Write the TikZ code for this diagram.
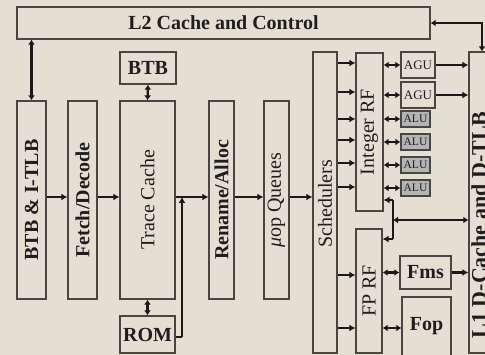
\documentclass[tikz,border=0pt]{standalone}
\usepackage{fontspec}
\setmainfont{Liberation Serif}
\usetikzlibrary{arrows.meta,calc}
\definecolor{bg}{RGB}{229,223,211}
\definecolor{boxline}{RGB}{72,70,66}
\definecolor{arr}{RGB}{25,25,25}
\definecolor{alufill}{RGB}{180,180,180}
\definecolor{txt}{RGB}{30,30,30}
\begin{document}
\begin{tikzpicture}[x=1pt,y=-1pt,
  box/.style={draw=boxline,line width=1.3pt,inner sep=0pt,minimum width=#1},
  lbl/.style={text=txt,inner sep=0pt,font=\fontsize{20}{22}\selectfont},
  blbl/.style={lbl,font=\fontsize{20}{22}\selectfont\bfseries},
  vl/.style={lbl,rotate=90},
  vbl/.style={blbl,rotate=90},
  ar/.style={draw=arr,line width=2.2pt,-{Latex[length=6pt,width=7pt]}},
  dar/.style={draw=arr,line width=2.2pt,{Latex[length=5pt,width=7pt]}-{Latex[length=5pt,width=7pt]}},
  ln/.style={draw=arr,line width=2.2pt}]
\useasboundingbox (0,0) rectangle (485,355);
\clip (0,0) rectangle (485,355);
\fill[bg] (0,0) rectangle (485,355);

% boxes
\node[box=413pt,minimum height=32pt] (L2) at (223.5,23) {};
\node[blbl] (L2t) at (L2.center) {L2 Cache and Control};
\node[box=51pt,minimum height=301pt] (L1) at (494.5,202.5) {};
\node[vbl,font=\fontsize{22}{24}\selectfont\bfseries] (L1t) at (479,225) {L1 D-Cache and D-TLB};

\node[box=29pt,minimum height=198pt] (bi) at (31.5,200) {};
\node[vbl] (bit) at (bi.center) {BTB \& I-TLB};
\node[box=29pt,minimum height=198pt] (fd) at (82.5,200) {};
\node[vbl] (fdt) at (fd.center) {Fetch/Decode};
\node[box=55pt,minimum height=198pt] (tc) at (147.5,200) {};
\node[vl] (tct) at (tc.center) {Trace Cache};
\node[box=56pt,minimum height=32pt] (btb) at (148,68) {};
\node[blbl] (btbt) at (btb.center) {BTB};
\node[box=55pt,minimum height=37pt] (rom) at (147.5,334.5) {};
\node[blbl] (romt) at (rom.center) {ROM};
\node[box=25pt,minimum height=198pt] (ra) at (221.5,200) {};
\node[vbl] (rat) at (ra.center) {Rename/Alloc};
\node[box=25pt,minimum height=198pt] (uq) at (276.5,200) {};
\node[vl] (uqt) at (uq.center) {{\itshape μ}op Queues};
\node[box=24pt,minimum height=301pt] (sc) at (325,202.5) {};
\node[vl] (sct) at (325,204) {Schedulers};
\node[box=27pt,minimum height=158pt] (irf) at (369.5,132) {};
\node[vl] (irft) at (irf.center) {Integer RF};
\node[box=26pt,minimum height=124pt] (fprf) at (369,291) {};
\node[vl] (fprft) at (fprf.center) {FP RF};

\node[box=34pt,minimum height=26pt] (agu1) at (418,65) {};
\node[lbl,font=\fontsize{13}{14}\selectfont] (agu1t) at (agu1.center) {AGU};
\node[box=34pt,minimum height=26pt] (agu2) at (418,95) {};
\node[lbl,font=\fontsize{13}{14}\selectfont] (agu2t) at (agu2.center) {AGU};
\foreach \i/\y in {1/119,2/142,3/165,4/188}{
  \node[box=29pt,minimum height=16pt,fill=alufill] (alu\i) at (415.5,\y) {};
  \node[lbl,font=\fontsize{11.5}{12}\selectfont] (alu\i t) at (alu\i.center) {ALU};
}
\node[box=51pt,minimum height=33pt] (fms) at (425.5,272.5) {};
\node[blbl] (fmst) at (fms.center) {Fms};
\node[box=49pt,minimum height=68pt] (fop) at (426.5,331) {};
\node[blbl] (fopt) at (426.5,326) {Fop};

% connectors
\draw[dar] (L2.south -| bi.north) -- (bi.north);
\coordinate (c1) at (482,23);
\draw[dar] (L2.east) -- (c1) -- (c1 |- L1.north);
\draw[dar] (btb.south) -- (tc.north);
\draw[dar] (tc.south) -- (rom.north);
\foreach \a/\b in {bi/fd,fd/tc,tc/ra,ra/uq,uq/sc}{
  \draw[ar] (\a.east |- 0,197) -- (\b.west |- 0,197);
}
\coordinate (j1) at (182,197);
\coordinate (j2) at (182,337);
\draw[ln] (rom.east |- j2) -- (j2);
\draw[ar] (j2) -- (j1);

\foreach \y in {63,92,119,140,163,187}{
  \draw[ar] (sc.east |- 0,\y) -- (irf.west |- 0,\y);
}
\foreach \y in {275,328}{
  \draw[ar] (sc.east |- 0,\y) -- (fprf.west |- 0,\y);
}
\foreach \n in {agu1,agu2,alu1,alu2,alu3,alu4}{
  \draw[dar] (irf.east |- \n.west) -- (\n.west);
}
\draw[ar] (agu1.east) -- (L1.west |- agu1.east);
\draw[ar] (agu2.east) -- (L1.west |- agu2.east);

\coordinate (b1) at (393,200);
\coordinate (b2) at (393,239);
\coordinate (b3) at (393,220);
\draw[ln] (b1) -- (b2);
\draw[ar] (b1) -- (irf.east |- b1);
\draw[ar] (b2) -- (fprf.east |- b2);
\draw[dar] (b3) -- (L1.west |- b3);

\draw[dar] (fprf.east |- fms.west) -- (fms.west);
\draw[ar] (fms.east) -- (L1.west |- fms.east);
\draw[dar] (fprf.east |- 0,328) -- (fop.west |- 0,328);
\end{tikzpicture}
\end{document}
